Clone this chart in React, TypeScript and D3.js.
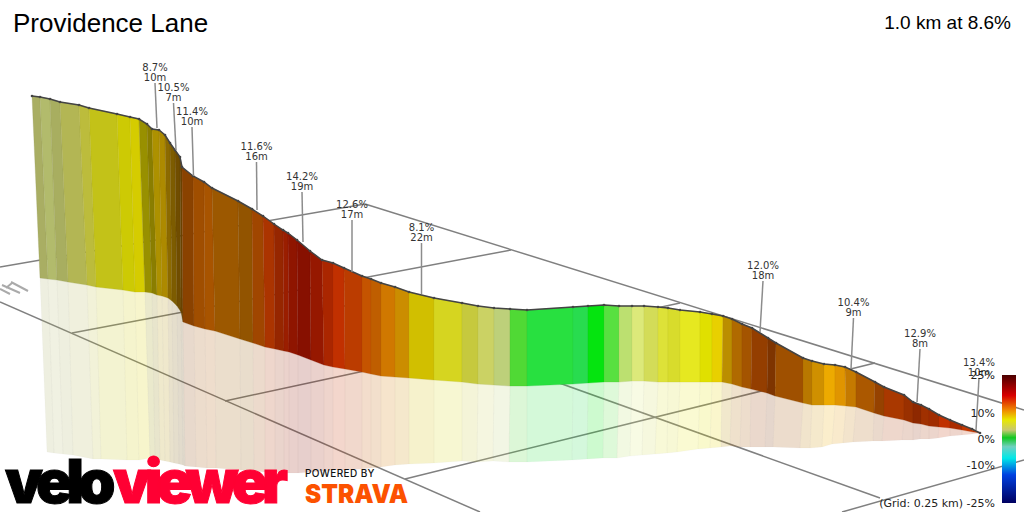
import React from 'react';
import * as d3 from 'd3';

const along = [0,8,18,28,47,57,85,98,107,115,120,127,133,138,143,148,150,161,172,180,206,220,231,242,251,256,265,278,290,301,312,330,339,349,363,377,402,430,446,462,478,495,541,556,572,587,600,612,626,636,648,668,680,691,700,710,720,736,744,771,780,792,803,813,824,843,852,872,881,889,897,907,918,930,940,948];
const surface = [384,383,381,378,375,372,366,363,361,356,351,350,345,337,330,323,313,304,298,292,279,271,264,256,250,247,240,229,220,217,212,204,201,197,193,188,182,177,174,172,171,170,173,174,175,174,174,174,173,172,170,168,166,164,161,156,152,142,137,122,119,116,115,113,108,98,93,85,78,75,71,65,60,55,51,47];
const baseAlong = [8,16,25,36,55,64,91,103,113,120,125,130,136,140,145,149,151,162,173,183,208,221,233,243,252,257,266,279,292,301,313,330,339,349,363,377,402,430,446,462,478,495,541,556,572,587,600,612,626,636,648,668,680,690,700,710,719,735,743,771,780,792,803,814,824,842,852,872,881,889,897,907,918,930,941,948];
const base = [202,201,200,198,195,193,190,188,188,187,185,184,182,179,174,168,158,154,151,149,141,137,133,131,129,128,125,120,115,113,111,108,106,104,103,102,100,98,96,95,94,94,96,97,98,98,99,99,98,98,98,98,98,98,96,93,91,87,84,77,75,75,75,74,73,67,64,60,57,56,54,53,52,50,48,47];
const shadowAlong = [15,22,31,41,61,69,95,107,118,123,128,133,138,142,147,151,153,164,175,184,209,222,233,243,252,257,266,279,292,301,313,330,339,349,363,377,402,430,445,461,477,495,540,555,571,585,598,610,623,635,645,666,678,689,698,708,718,733,741,768,778,790,800,811,821,841,850,870,881,888,897,906,918,930,940,948];
const shadow = [28,27,26,25,21,21,20,20,22,21,20,19,18,17,16,15,14,13,12,12,10,9,8,8,7,7,7,8,9,10,10,11,12,13,15,16,17,19,18,19,18,18,20,21,22,22,24,25,26,27,28,31,32,33,34,33,33,33,33,32,32,33,36,37,38,39,39,40,40,41,41,42,44,45,46,47];
const segmentColors = ['#a9ae63','#b2bb6c','#a8ae60','#b3b654','#bcbc3c','#c3c218','#cdca04','#d5cc00','#989000','#8a7e00','#ad9100','#ad8a00','#8c6a00','#7d5c00','#704d00','#6b4400','#8a4200','#a04e00','#a85400','#9c5800','#925400','#a04600','#ab3400','#962600','#9a1e00','#8f1500','#871000','#961800','#aa2600','#c13000','#bb3c00','#c55400','#bf5e00','#d07800','#cb8d00','#d1bf00','#d6d520','#c6c93e','#cbd264','#bdd07a','#50d935','#28e040','#28dc4f','#05e40f','#58e040','#bce070','#dce97a','#d3dc58','#dde238','#d8dc2c','#e6e820','#e0e000','#e8d000','#bb8e00','#b06a00','#a45400','#943e00','#7e3400','#9f5000','#b87800','#cf9000','#edaa00','#e09500','#c57a00','#ab5800','#964200','#a93800','#9a3000','#8e2800','#a03000','#a02c00','#c03000','#aa2c00','#c43800','#c43800'];

// climbs callouts
const calloutGrades = ['8.7%','10.5%','11.4%','11.6%','14.2%','12.6%','8.1%','12.0%','10.4%','12.9%','13.4%'];
const calloutLengths = ['10m','7m','10m','16m','19m','17m','22m','18m','9m','8m','10m'];
const stemTopAlong = [123,141.5,160,224.5,270,320,389.5,731,821.5,888,947];
const stemTopHeight = [397,377,353,318,288,260,237,199,162,131,102];
const stemFootAlong = [125,144,161.5,225,271,320,389.5,728,819,885,944];
const stemFootHeight = [352,330,304,270,238,208,186,148,111,78,50];

// grid lines as [along, height, along, height]
const gridLines = [
  [-32,213,333,276],
  [333,276,992,70],
  [-32,178,448,-32],
  [268,190,848,-18],
  [40,147,479,230],
  [193,79,648,177],
  [373,1,843,117],
  [810,-32,992,20],
];

const legendGrades = [25,17,11,7.5,3.5,0.5,-3,-7.5,-14,-25];
const legendColors = ['#4a0000','#d80000','#f09000','#e8e800','#c8c870','#10c820','#70d0c0','#00e8e8','#0040e0','#000060'];
const legendTicks = [25,10,0,-10];

const x = d3.scaleLinear().domain([0, 948]).range([32, 980]);
const y = d3.scaleLinear().domain([0, 480]).range([480, 0]);
const legendY = d3.scaleLinear().domain([25, -25]).range([375, 503]);

const poly = (pts: number[][]) => 'M' + pts.map((p) => `${x(p[0])},${y(p[1])}`).join('L') + 'Z';
const ridge = d3.line<number>().x((_, i) => x(along[i])).y((d) => y(d));

const sans = '"DejaVu Sans", sans-serif';
const heavy = 'Inter, Lato, sans-serif';

export default function App() {
  return (
    <svg width={1024} height={512} style={{ position: 'absolute', left: 0, top: 0, background: '#fff' }}>
      <defs>
        <linearGradient id="legendRamp" x1="0" y1="0" x2="0" y2="1">
          {legendGrades.map((g, i) => (
            <stop key={g} offset={(legendY(g) - 375) / 128} stopColor={legendColors[i]} />
          ))}
        </linearGradient>
      </defs>

      <text x={13} y={32} fontFamily='"Liberation Sans", Arial, sans-serif' fontSize={26} fill="#000">Providence Lane</text>
      <text x={1011} y={29} textAnchor="end" fontFamily='"Liberation Sans", Arial, sans-serif' fontSize={19} fill="#000">1.0 km at 8.6%</text>

      {gridLines.map((l, i) => (
        <line key={i} x1={x(l[0])} y1={y(l[1])} x2={x(l[2])} y2={y(l[3])} stroke="#808080" strokeWidth={1.5} />
      ))}

      {/* north marker */}
      <g stroke="#aaa" strokeWidth={2} fill="none">
        <path d="M11,282L28,291M2,285L20,293M0,289L10,294M12,283L6,288" />
      </g>

      {segmentColors.map((c, i) => (
        <path
          key={'s' + i}
          d={poly([[baseAlong[i], base[i]], [baseAlong[i + 1], base[i + 1]], [shadowAlong[i + 1], shadow[i + 1]], [shadowAlong[i], shadow[i]]])}
          fill={c}
          fillOpacity={0.2}
          stroke="#777"
          strokeOpacity={0.03}
          strokeWidth={1}
        />
      ))}
      {segmentColors.map((c, i) => (
        <path
          key={'w' + i}
          d={poly([[along[i], surface[i]], [along[i + 1], surface[i + 1]], [baseAlong[i + 1], base[i + 1]], [baseAlong[i], base[i]]])}
          fill={c}
          stroke={d3.color(c)!.darker(0.4).formatHex()}
          strokeOpacity={0.3}
          strokeWidth={0.8}
        />
      ))}

      <path d={ridge(surface)!} fill="none" stroke="#444" strokeWidth={1.5} />
      {surface.map((h, i) => (
        <circle key={i} cx={x(along[i])} cy={y(h)} r={1.3} fill="#444" />
      ))}

      {calloutGrades.map((g, i) => (
        <g key={g + i}>
          <line x1={x(stemTopAlong[i])} y1={y(stemTopHeight[i])} x2={x(stemFootAlong[i])} y2={y(stemFootHeight[i])} stroke="#8c8c8c" strokeWidth={1.5} />
          <text x={x(stemTopAlong[i])} y={y(stemTopHeight[i]) - 12} textAnchor="middle" fontFamily={sans} fontSize={10} fill="#333">{g}</text>
          <text x={x(stemTopAlong[i])} y={y(stemTopHeight[i]) - 2} textAnchor="middle" fontFamily={sans} fontSize={10} fill="#333">{calloutLengths[i]}</text>
        </g>
      ))}

      <rect x={1002} y={375} width={14} height={128} fill="url(#legendRamp)" />
      {legendTicks.map((t) => (
        <text key={t} x={995} y={legendY(t) + 4} textAnchor="end" fontFamily={sans} fontSize={11} fill="#222">{t}%</text>
      ))}
      <text x={995} y={legendY(-25) + 4} textAnchor="end" fontFamily={sans} fontSize={11} fill="#222">(Grid: 0.25 km) -25%</text>

      <text x={5} y={503} fontFamily={heavy} fontWeight={900} fontSize={60} letterSpacing={-6} stroke="#000" strokeWidth={1} fill="#000">velo</text>
      <text x={113} y={503} fontFamily={heavy} fontWeight={900} fontSize={60} letterSpacing={-6.2} stroke="#ff0033" strokeWidth={1} fill="#ff0033">viewer</text>
      <text x={305} y={477} fontFamily='Inter, "Noto Sans", sans-serif' fontWeight={500} fontSize={10} letterSpacing={0.4} fill="#111">POWERED BY</text>
      <text x={305} y={503} fontFamily={heavy} fontWeight={900} fontSize={26} textLength={103} lengthAdjust="spacingAndGlyphs" fill="#fc5200">STRAVA</text>
    </svg>
  );
}
